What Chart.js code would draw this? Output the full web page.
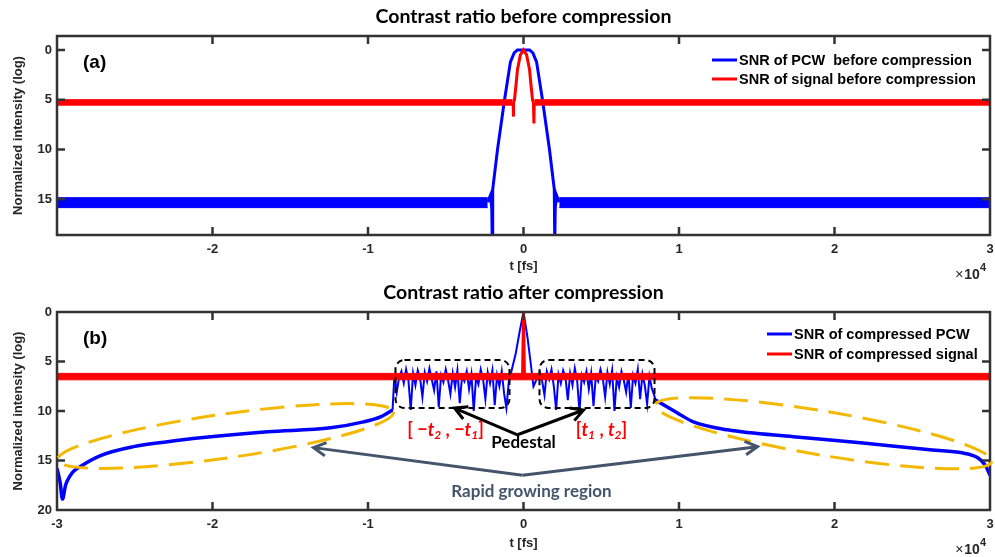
<!DOCTYPE html>
<html>
<head>
<meta charset="utf-8">
<script src="https://cdn.jsdelivr.net/npm/chart.js@4.4.0/dist/chart.umd.min.js"></script>
<style>
  html, body { margin: 0; padding: 0; background: #fff; }
  #wrap { position: relative; width: 995px; height: 557px; overflow: hidden; }
  canvas { position: absolute; left: 0; }
</style>
</head>
<body>
<div id="wrap">
  <canvas id="chartA" width="995" height="280" style="top:0"></canvas>
  <canvas id="chartB" width="995" height="277" style="top:280px"></canvas>
</div>
<script>
// ---------- axes ----------
const xTicksA = [-20000, -10000, 0, 10000, 20000, 30000];
const xTicksB = [-30000, -20000, -10000, 0, 10000, 20000, 30000];
const yTicksA = [0, 5, 10, 15];
const yTicksB = [0, 5, 10, 15, 20];

// ---------- (a) before compression ----------
// noise floors: [low, high] of the band, and where it starts (|t|)
const pcwFloorA = [14.85, 15.85];
const pcwFloorEdgeA = 2300;
const sigFloorA = [5.0, 5.55];
const sigFloorEdgeA = 700;

const pcwPulseT_A = [-2300, -2120, -2040, -2010, -1980, -1670, -1220, -840, -600, -390, 0, 390, 600, 840, 1220, 1670, 1980, 2010, 2040, 2120, 2300];
const pcwPulseV_A = [15.3, 14.6, 16.0, 19.5, 14.0, 10.0, 5.0, 1.2, 0.3, 0.0, 0.0, 0.0, 0.3, 1.2, 5.0, 10.0, 14.0, 19.5, 16.0, 14.6, 15.3];

const sigPulseT_A = [-700, -665, -650, -635, -580, -480, -390, -200, 0, 200, 390, 480, 580, 640, 670, 690, 700];
const sigPulseV_A = [5.3, 5.3, 6.7, 5.3, 5.0, 3.5, 2.0, 0.5, 0.0, 0.5, 2.0, 3.5, 5.0, 5.3, 7.4, 5.3, 5.3];

// ---------- (b) after compression ----------
const tailLeftT = [-30000, -29800, -29650, -29450, -29320, -29000, -28490, -27200, -25080, -22890, -20770, -16460, -12410, -10290, -9200, -8420];
const tailLeftV = [15.8, 17.2, 18.9, 17.5, 17.0, 16.2, 15.6, 14.5, 13.6, 13.1, 12.7, 12.1, 11.7, 11.1, 10.6, 9.9];
const tailRightT = [8490, 8810, 9900, 10930, 13120, 17360, 21670, 25980, 28100, 29190, 29710, 30000];
const tailRightV = [8.9, 9.2, 10.2, 11.1, 11.9, 12.6, 13.2, 13.9, 14.2, 14.7, 15.5, 16.5];

const pedStep = 150;
const pedLeftStart = -8300;
const pedLeftV = [6.3, 8.1, 6.6, 6.0, 7.2, 5.8, 6.9, 9.9, 6.2, 7.4, 5.9, 6.7, 8.6, 6.1, 7.0, 5.7, 6.8, 7.9, 6.0, 9.6,
                  6.4, 7.1, 5.8, 6.9, 8.3, 6.2, 7.6, 5.9, 9.2, 6.5, 7.0, 6.0, 7.8, 6.3, 10.0, 6.6, 7.3, 5.8, 6.8, 8.8,
                  6.1, 7.2, 5.9, 9.4, 6.4, 7.5, 6.0, 8.2, 9.7, 7.1];
const pulseT_B = [-840, -500, -250, 0, 250, 450, 640];
const pulseV_B = [6.4, 4.2, 2.0, 0.0, 2.5, 5.0, 7.5];
const pedRightStart = 1050;
const pedRightV = [6.1, 7.0, 8.4, 6.0, 6.8, 5.8, 7.5, 9.9, 6.3, 7.2, 5.9, 6.6, 8.9, 6.2, 7.4, 5.7, 6.9, 10.1, 6.4, 7.1,
                   6.0, 7.8, 6.2, 9.5, 6.5, 7.0, 5.8, 6.7, 8.6, 6.1, 7.3, 5.9, 10.0, 6.6, 7.6, 6.0, 6.9, 8.1, 6.2, 9.7,
                   6.4, 7.2, 5.8, 8.8, 6.3, 7.4, 9.3, 6.5, 7.7, 8.4];

const sigFloorB = [6.2, 6.85];
const sigSpikeT_B = [-60, 0, 60];
const sigSpikeV_B = [6.5, 0.0, 6.5];

const BLUE = '#0000ff';
const RED = '#ff0000';
const ink = '#262626';
const sans = '"Liberation Sans", Arial, sans-serif';
const calib = 'Lato, "Open Sans", sans-serif';

function pts(ts, vs) {
  return ts.map((t, i) => ({ x: t, y: vs[i] }));
}

function floorBand(lohi, t0, t1, color, order) {
  return [
    { data: [{ x: t0, y: lohi[0] }, { x: t1, y: lohi[0] }], borderColor: color, borderWidth: 1, pointRadius: 0, fill: false, order },
    { data: [{ x: t0, y: lohi[1] }, { x: t1, y: lohi[1] }], borderColor: color, backgroundColor: color, borderWidth: 1, pointRadius: 0, fill: '-1', order }
  ];
}

function makeScales(xTicks, yTicks, yMin, yMax, xHeight) {
  const tickFont = { family: sans, size: 13, weight: 'bold' };
  return {
    x: {
      type: 'linear', min: -30000, max: 30000,
      grid: { display: false, drawTicks: false }, border: { display: false },
      afterBuildTicks: s => { s.ticks = xTicks.map(v => ({ value: v })); },
      afterFit: s => { s.height = xHeight; s.paddingLeft = 0; s.paddingRight = 0; },
      ticks: { font: tickFont, color: ink, padding: 7, maxRotation: 0, autoSkip: false, callback: v => String(v / 1e4) },
      title: { display: true, text: 't [fs]', font: tickFont, color: ink, padding: { top: 0, bottom: 6 } }
    },
    y: {
      type: 'linear', reverse: true, min: yMin, max: yMax,
      grid: { display: false, drawTicks: false }, border: { display: false },
      afterBuildTicks: s => { s.ticks = yTicks.map(v => ({ value: v })); },
      afterFit: s => { s.width = 57; s.paddingTop = 0; s.paddingBottom = 0; },
      ticks: { font: tickFont, color: ink, padding: 5, autoSkip: false },
      title: { display: true, text: 'Normalized intensity (log)', font: tickFont, color: ink, padding: { top: 11, bottom: 0 } }
    }
  };
}

// box with inward ticks on all four sides, MATLAB style
const framePlugin = {
  id: 'frame',
  afterDatasetsDraw(chart) {
    const { ctx, chartArea: a, scales } = chart;
    ctx.save();
    ctx.strokeStyle = '#333';
    ctx.lineWidth = 2.5;
    ctx.strokeRect(a.left, a.top, a.right - a.left, a.bottom - a.top);
    ctx.beginPath();
    scales.x.ticks.forEach(t => {
      const px = scales.x.getPixelForValue(t.value);
      if (px <= a.left + 2 || px >= a.right - 2) return;
      ctx.moveTo(px, a.bottom); ctx.lineTo(px, a.bottom - 8);
      ctx.moveTo(px, a.top); ctx.lineTo(px, a.top + 8);
    });
    scales.y.ticks.forEach(t => {
      const py = scales.y.getPixelForValue(t.value);
      if (py <= a.top + 2 || py >= a.bottom - 2) return;
      ctx.moveTo(a.left, py); ctx.lineTo(a.left + 8, py);
      ctx.moveTo(a.right, py); ctx.lineTo(a.right - 8, py);
    });
    ctx.stroke();
    ctx.restore();
  }
};

const legendBox = {
  id: 'legendBox',
  afterDatasetsDraw(chart, args, opts) {
    const { ctx, chartArea: a } = chart;
    const x0 = a.right - opts.right;
    let y = a.top + opts.top;
    ctx.save();
    ctx.font = 'bold 14.5px ' + sans;
    ctx.textBaseline = 'middle';
    ctx.fillStyle = '#000';
    chart.data.datasets.forEach(ds => {
      if (!ds.label) return;
      ctx.strokeStyle = ds.borderColor;
      ctx.lineWidth = 3;
      ctx.beginPath(); ctx.moveTo(x0, y); ctx.lineTo(x0 + 25, y); ctx.stroke();
      ctx.fillText(ds.label, x0 + 27, y + 0.5);
      y += opts.gap;
    });
    ctx.restore();
  }
};

const panelPlugin = {
  id: 'panel',
  afterDraw(chart, args, opts) {
    const { ctx, chartArea: a } = chart;
    ctx.save();
    ctx.fillStyle = '#000';
    ctx.textAlign = 'center';
    ctx.textBaseline = 'alphabetic';
    ctx.font = 'bold 19.5px ' + calib;
    ctx.fillText(opts.title, (a.left + a.right) / 2, a.top - 13);
    ctx.textAlign = 'left';
    ctx.textBaseline = 'middle';
    ctx.font = 'bold 19px ' + sans;
    ctx.fillText(opts.tag, a.left + 26, a.top + 27);
    // x10^4 exponent
    ctx.fillStyle = ink;
    ctx.textAlign = 'right';
    ctx.textBaseline = 'alphabetic';
    ctx.font = 'bold 11px ' + sans;
    const ex = a.right - 4;
    ctx.fillText('4', ex, a.bottom + 36);
    const w4 = ctx.measureText('4').width;
    ctx.font = 'bold 14px ' + sans;
    ctx.fillText('10', ex - w4, a.bottom + 43.5);
    const w10 = ctx.measureText('10').width;
    ctx.font = '14px ' + sans;
    ctx.fillText('\u00d7', ex - w4 - w10 - 1, a.bottom + 43.5);
    ctx.restore();
  }
};

// ---------- annotations for panel (b) ----------
const notesB = {
  boxes: [[-8232, 4.85, -900, 9.7], [1029, 4.85, 8425, 9.7]],
  ellipses: [[-29970, 14.95, -8360, 10.1], [8490, 9.4, 30120, 15.1]],
  pedestalArrow: { from: [-386, 12.4], to: [[-4437, 9.7], [3859, 9.9]] },
  growArrow: { from: [-64, 16.5], to: [[-13505, 13.7], [15050, 13.6]] },
  pedestal: [0, 13.2],
  grow: [514, 18.1],
  leftRange: [-5016, 11.9],
  rightRange: [5016, 11.9]
};

function arrowHead(ctx, x0, y0, x1, y1, len) {
  const ang = Math.atan2(y1 - y0, x1 - x0);
  ctx.moveTo(x1 + len * Math.cos(ang + Math.PI - 0.5), y1 + len * Math.sin(ang + Math.PI - 0.5));
  ctx.lineTo(x1, y1);
  ctx.lineTo(x1 + len * Math.cos(ang + Math.PI + 0.5), y1 + len * Math.sin(ang + Math.PI + 0.5));
}

function drawRuns(ctx, runs, cx, cy) {
  let w = 0;
  runs.forEach(r => { ctx.font = r[1]; w += ctx.measureText(r[0]).width; });
  let x = cx - w / 2;
  runs.forEach(r => {
    ctx.font = r[1];
    ctx.fillText(r[0], x, cy + (r[2] || 0));
    x += ctx.measureText(r[0]).width;
  });
}

const notesPlugin = {
  id: 'notes',
  afterDatasetsDraw(chart, args, n) {
    const { ctx } = chart;
    const sx = chart.scales.x, sy = chart.scales.y;
    const P = p => [sx.getPixelForValue(p[0]), sy.getPixelForValue(p[1])];
    ctx.save();

    // dashed boxes
    ctx.strokeStyle = '#000';
    ctx.lineWidth = 2;
    ctx.setLineDash([6, 4]);
    n.boxes.forEach(b => {
      const [x0, y0] = P([b[0], b[1]]);
      const [x1, y1] = P([b[2], b[3]]);
      ctx.beginPath();
      ctx.roundRect(x0, y0, x1 - x0, y1 - y0, 9);
      ctx.stroke();
    });

    // dashed ellipses
    ctx.strokeStyle = '#f5b800';
    ctx.lineWidth = 3;
    ctx.setLineDash([24, 11]);
    n.ellipses.forEach(e => {
      const [x0, y0] = P([e[0], e[1]]);
      const [x1, y1] = P([e[2], e[3]]);
      const cx = (x0 + x1) / 2, cy = (y0 + y1) / 2;
      const r = Math.hypot(x1 - x0, y1 - y0) / 2;
      ctx.beginPath();
      ctx.ellipse(cx, cy, r, 22, Math.atan2(y1 - y0, x1 - x0), 0, Math.PI * 2);
      ctx.stroke();
    });
    ctx.setLineDash([]);

    // arrows
    [[n.pedestalArrow, '#000'], [n.growArrow, '#44546a']].forEach(([ar, col]) => {
      const [vx, vy] = P(ar.from);
      ctx.strokeStyle = col;
      ctx.lineWidth = 3;
      ctx.lineJoin = 'miter';
      ar.to.forEach(tp => {
        const [tx, ty] = P(tp);
        ctx.beginPath();
        ctx.moveTo(vx, vy); ctx.lineTo(tx, ty);
        arrowHead(ctx, vx, vy, tx, ty, 14);
        ctx.stroke();
      });
    });

    // labels
    ctx.textAlign = 'left';
    ctx.textBaseline = 'middle';
    const up = 'bold 18px ' + calib, it = 'italic bold 18px ' + calib, sub = 'italic bold 12px ' + calib;
    ctx.fillStyle = RED;
    let [lx, ly] = P(n.leftRange);
    drawRuns(ctx, [['[ ', up], ['\u2212', up], ['t', it], ['2', sub, 5], [' , ', up], ['\u2212', up], ['t', it], ['1', sub, 5], [']', up]], lx, ly);
    [lx, ly] = P(n.rightRange);
    drawRuns(ctx, [['[', up], ['t', it], ['1', sub, 5], [' , ', up], ['t', it], ['2', sub, 5], [']', up]], lx, ly);
    ctx.textAlign = 'center';
    ctx.fillStyle = '#000';
    ctx.font = 'bold 17px ' + calib;
    let [px, py] = P(n.pedestal);
    ctx.fillText('Pedestal', px, py);
    ctx.fillStyle = '#44546a';
    [px, py] = P(n.grow);
    ctx.fillText('Rapid growing region', px, py);
    ctx.restore();
  }
};

const base = {
  responsive: false,
  animation: false,
  events: [],
  elements: { line: { tension: 0 }, point: { radius: 0 } }
};

// ---------- chart (a) ----------
new Chart(document.getElementById('chartA'), {
  type: 'line',
  data: {
    datasets: [
      { label: 'SNR of PCW  before compression', data: pts(pcwPulseT_A, pcwPulseV_A), borderColor: BLUE, borderWidth: 3, fill: false, order: 2 },
      ...floorBand(pcwFloorA, -30000, -pcwFloorEdgeA, BLUE, 2),
      ...floorBand(pcwFloorA, pcwFloorEdgeA, 30000, BLUE, 2),
      { label: 'SNR of signal before compression', data: pts(sigPulseT_A, sigPulseV_A), borderColor: RED, borderWidth: 3, fill: false, order: 1 },
      ...floorBand(sigFloorA, -30000, -sigFloorEdgeA, RED, 1),
      ...floorBand(sigFloorA, sigFloorEdgeA, 30000, RED, 1)
    ]
  },
  options: Object.assign({}, base, {
    layout: { padding: { top: 36, right: 5, left: 0, bottom: 0 } },
    scales: makeScales(xTicksA, yTicksA, -1.4, 18.6, 45),
    plugins: {
      legend: { display: false }, tooltip: { enabled: false },
      legendBox: { right: 278, top: 24, gap: 19 },
      panel: { title: 'Contrast ratio before compression', tag: '(a)' }
    }
  }),
  plugins: [framePlugin, legendBox, panelPlugin]
});

// ---------- chart (b) ----------
const pedLeft = pedLeftV.map((v, i) => ({ x: pedLeftStart + i * pedStep, y: v }));
const pedRight = pedRightV.map((v, i) => ({ x: pedRightStart + i * pedStep, y: v }));
const tailL = pts(tailLeftT, tailLeftV);
const tailR = pts(tailRightT, tailRightV);
const centreB = [tailL[tailL.length - 1], ...pedLeft, ...pts(pulseT_B, pulseV_B), ...pedRight, tailR[0]];

new Chart(document.getElementById('chartB'), {
  type: 'line',
  data: {
    datasets: [
      { label: 'SNR of compressed PCW', data: tailL, borderColor: BLUE, borderWidth: 3.5, fill: false, order: 2, cubicInterpolationMode: 'monotone' },
      { data: centreB, borderColor: BLUE, borderWidth: 2, fill: false, order: 2 },
      { data: tailR, borderColor: BLUE, borderWidth: 3.5, fill: false, order: 2, cubicInterpolationMode: 'monotone' },
      { label: 'SNR of compressed signal', data: pts(sigSpikeT_B, sigSpikeV_B), borderColor: RED, borderWidth: 3, fill: false, order: 1 },
      ...floorBand(sigFloorB, -30000, 30000, RED, 1)
    ]
  },
  options: Object.assign({}, base, {
    layout: { padding: { top: 32, right: 5, left: 0, bottom: 0 } },
    scales: makeScales(xTicksB, yTicksB, 0, 20, 47),
    plugins: {
      legend: { display: false }, tooltip: { enabled: false },
      legendBox: { right: 223, top: 22, gap: 20 },
      panel: { title: 'Contrast ratio after compression', tag: '(b)' },
      notes: notesB
    }
  }),
  plugins: [framePlugin, notesPlugin, legendBox, panelPlugin]
});
</script>
</body>
</html>
